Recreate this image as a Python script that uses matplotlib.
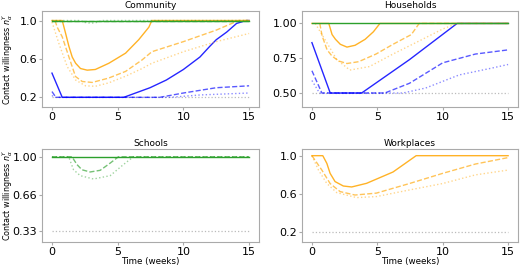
import matplotlib
matplotlib.use("Agg")
import matplotlib.pyplot as plt

# ---------------- data ----------------
# Community
com_green_solid_t = [0, 15]
com_green_solid_v = [1.0, 1.0]
com_green_dashed_t = [0, 15]
com_green_dashed_v = [1.0, 1.0]
com_green_dotted_t = [0, 2.15, 2.5, 3.0, 3.4, 3.8, 15]
com_green_dotted_v = [1.0, 1.0, 0.98, 0.972, 0.98, 1.0, 1.0]
com_orange_solid_t = [0, 0.78, 1.03, 1.29, 1.54, 1.8, 2.17, 2.68, 3.3, 4.33, 5.6, 6.6, 7.37, 7.6, 15]
com_orange_solid_v = [1.0, 1.0, 0.87, 0.73, 0.62, 0.555, 0.50, 0.483, 0.49, 0.555, 0.66, 0.80, 0.93, 1.0, 1.0]
com_orange_dashed_t = [0.23, 0.4, 0.78, 1.29, 1.79, 2.3, 3.06, 4.3, 5.6, 6.86, 7.6, 10.0, 12.5, 14.2, 15]
com_orange_dashed_v = [1.0, 0.93, 0.83, 0.62, 0.417, 0.365, 0.355, 0.40, 0.47, 0.59, 0.675, 0.78, 0.90, 1.0, 1.0]
com_orange_dotted_t = [0, 0.53, 1.16, 1.8, 2.55, 3.3, 4.3, 5.6, 6.86, 7.6, 10.0, 12.5, 15]
com_orange_dotted_v = [0.985, 0.76, 0.52, 0.38, 0.32, 0.315, 0.35, 0.42, 0.50, 0.555, 0.675, 0.78, 0.865]
com_blue_solid_t = [0, 0.78, 5.46, 7.46, 8.7, 10.0, 11.26, 12.0, 12.5, 13.3, 14.05, 14.8, 15]
com_blue_solid_v = [0.452, 0.2, 0.2, 0.30, 0.38, 0.49, 0.62, 0.73, 0.80, 0.88, 0.97, 1.0, 1.0]
com_blue_dashed_t = [0, 0.3, 8.2, 10.0, 12.5, 15]
com_blue_dashed_v = [0.26, 0.2, 0.2, 0.245, 0.30, 0.32]
com_blue_dotted_t = [0, 0.15, 9.0, 11.3, 15]
com_blue_dotted_v = [0.22, 0.2, 0.2, 0.225, 0.245]
com_floor = 0.2

# Households
hh_green_solid_t = [0, 15]
hh_green_solid_v = [1.0, 1.0]
hh_orange_solid_t = [0, 1.29, 1.54, 1.8, 2.17, 2.68, 3.3, 4.07, 4.7, 5.2, 15]
hh_orange_solid_v = [1.0, 1.0, 0.92, 0.886, 0.85, 0.83, 0.843, 0.886, 0.94, 1.0, 1.0]
hh_orange_dashed_t = [0.6, 0.78, 1.16, 1.54, 2.05, 2.68, 3.57, 4.9, 6.2, 7.6, 8.2, 15]
hh_orange_dashed_v = [1.0, 0.91, 0.81, 0.765, 0.73, 0.712, 0.725, 0.78, 0.85, 0.92, 1.0, 1.0]
hh_orange_dotted_t = [0.25, 1.14, 1.9, 2.9, 4.4, 6.2, 8.2, 10.0, 11.1, 15]
hh_orange_dotted_v = [1.0, 0.862, 0.74, 0.665, 0.69, 0.78, 0.874, 0.96, 1.0, 1.0]
hh_blue_solid_t = [0, 1.4, 3.8, 7.46, 11.1, 15]
hh_blue_solid_v = [0.862, 0.5, 0.5, 0.74, 1.0, 1.0]
hh_blue_dashed_t = [0, 0.76, 5.57, 7.46, 10.0, 12.5, 15]
hh_blue_dashed_v = [0.66, 0.5, 0.5, 0.57, 0.717, 0.78, 0.81]
hh_blue_dotted_t = [0, 0.58, 6.96, 8.7, 11.26, 13.8, 15]
hh_blue_dotted_v = [0.59, 0.5, 0.5, 0.536, 0.63, 0.68, 0.705]
hh_floor = 0.5

# Schools
sc_green_solid_t = [0, 15]
sc_green_solid_v = [1.0, 1.0]
sc_green_dashed_t = [0, 1.52, 1.9, 2.28, 2.9, 3.67, 4.43, 5.06, 15]
sc_green_dashed_v = [1.0, 1.0, 0.93, 0.883, 0.863, 0.878, 0.943, 1.0, 1.0]
sc_green_dotted_t = [0, 1.27, 1.64, 2.15, 3.16, 4.43, 5.44, 6.2, 15]
sc_green_dotted_v = [1.0, 1.0, 0.883, 0.83, 0.80, 0.83, 0.93, 1.0, 1.0]
sc_floor = 0.33

# Workplaces
wp_orange_solid_t = [0, 0.83, 1.14, 1.39, 1.77, 2.4, 3.04, 4.18, 6.2, 7.97, 15]
wp_orange_solid_v = [1.0, 1.0, 0.92, 0.816, 0.73, 0.684, 0.674, 0.712, 0.83, 1.0, 1.0]
wp_orange_dashed_t = [0, 0.76, 1.39, 2.15, 3.29, 4.93, 7.46, 10.0, 12.5, 15]
wp_orange_dashed_v = [1.0, 0.85, 0.71, 0.626, 0.59, 0.61, 0.71, 0.816, 0.913, 0.98]
wp_orange_dotted_t = [0, 0.5, 1.14, 1.9, 3.42, 4.93, 7.46, 10.0, 12.5, 15]
wp_orange_dotted_v = [1.0, 0.85, 0.71, 0.615, 0.563, 0.574, 0.643, 0.71, 0.80, 0.85]
wp_floor = 0.2

floor_t = [0, 15]

titles = ["Community", "Households", "Schools", "Workplaces"]
yticks = [[0.2, 0.6, 1.0], [0.5, 0.75, 1.0], [0.33, 0.66, 1.0], [0.2, 0.6, 1.0]]
yticklabels = [["0.2", "0.6", "1.0"], ["0.50", "0.75", "1.00"],
               ["0.33", "0.66", "1.00"], ["0.2", "0.6", "1.0"]]
ylims = [(0.1, 1.1), (0.4, 1.09), (0.233, 1.07), (0.1, 1.07)]
xticks = [0, 5, 10, 15]

# ---------------- style ----------------
BLUE = "blue"
ORANGE = "orange"
GREEN = "#2ca02c"
FLOOR = "#aaaaaa"
SPINE = "#aaaaaa"
styles = {"solid": ("-", 0.85), "dashed": ("--", 0.65), "dotted": (":", 0.45)}

fig = plt.figure(figsize=(5.2, 2.66), dpi=100)
positions = [
    [0.081, 0.598, 0.417, 0.361],
    [0.581, 0.598, 0.415, 0.361],
    [0.081, 0.090, 0.417, 0.350],
    [0.581, 0.090, 0.415, 0.350],
]
axes = [fig.add_axes(p) for p in positions]

def line(ax, t, v, color, kind, alpha=None):
    ls, a = styles[kind]
    ax.plot(t, v, color=color, linestyle=ls, alpha=a if alpha is None else alpha, lw=1.0)

def floor(ax, val):
    ax.plot(floor_t, [val, val], color=FLOOR, linestyle=":", lw=0.9, alpha=0.8)

ax = axes[0]
floor(ax, com_floor)
line(ax, com_blue_dotted_t, com_blue_dotted_v, BLUE, "dotted")
line(ax, com_blue_dashed_t, com_blue_dashed_v, BLUE, "dashed")
line(ax, com_blue_solid_t, com_blue_solid_v, BLUE, "solid")
line(ax, com_orange_dotted_t, com_orange_dotted_v, ORANGE, "dotted")
line(ax, com_orange_dashed_t, com_orange_dashed_v, ORANGE, "dashed")
line(ax, com_orange_solid_t, com_orange_solid_v, ORANGE, "solid")
line(ax, com_green_dotted_t, com_green_dotted_v, GREEN, "dotted")
line(ax, com_green_dashed_t, com_green_dashed_v, GREEN, "dashed")
line(ax, com_green_solid_t, com_green_solid_v, GREEN, "solid", alpha=1.0)

ax = axes[1]
floor(ax, hh_floor)
line(ax, hh_blue_dotted_t, hh_blue_dotted_v, BLUE, "dotted")
line(ax, hh_blue_dashed_t, hh_blue_dashed_v, BLUE, "dashed")
line(ax, hh_blue_solid_t, hh_blue_solid_v, BLUE, "solid")
line(ax, hh_orange_dotted_t, hh_orange_dotted_v, ORANGE, "dotted")
line(ax, hh_orange_dashed_t, hh_orange_dashed_v, ORANGE, "dashed")
line(ax, hh_orange_solid_t, hh_orange_solid_v, ORANGE, "solid")
line(ax, hh_green_solid_t, hh_green_solid_v, GREEN, "solid", alpha=1.0)

ax = axes[2]
floor(ax, sc_floor)
line(ax, sc_green_dotted_t, sc_green_dotted_v, GREEN, "dotted")
line(ax, sc_green_dashed_t, sc_green_dashed_v, GREEN, "dashed")
line(ax, sc_green_solid_t, sc_green_solid_v, GREEN, "solid", alpha=1.0)

ax = axes[3]
floor(ax, wp_floor)
line(ax, wp_orange_dotted_t, wp_orange_dotted_v, ORANGE, "dotted")
line(ax, wp_orange_dashed_t, wp_orange_dashed_v, ORANGE, "dashed")
line(ax, wp_orange_solid_t, wp_orange_solid_v, ORANGE, "solid")

for i, ax in enumerate(axes):
    ax.set_title(titles[i], fontsize=6.5, pad=2)
    ax.set_xlim(-0.75, 15.75)
    ax.set_ylim(*ylims[i])
    ax.set_xticks(xticks)
    ax.set_xticklabels([str(x) for x in xticks])
    ax.set_yticks(yticks[i])
    ax.set_yticklabels(yticklabels[i])
    ax.tick_params(labelsize=8, color=SPINE, length=2.5, width=0.8, pad=1)
    for s in ax.spines.values():
        s.set_color(SPINE)
        s.set_linewidth(0.8)

for ax in (axes[0], axes[2]):
    ax.set_ylabel(r"Contact willingness $n_\alpha^Y$", fontsize=5.8)
    ax.yaxis.set_label_coords(-0.127, 0.5)
for ax in (axes[2], axes[3]):
    ax.set_xlabel("Time (weeks)", fontsize=6.3)
    ax.xaxis.set_label_coords(0.5, -0.16)

fig.savefig("out.png", dpi=100)
